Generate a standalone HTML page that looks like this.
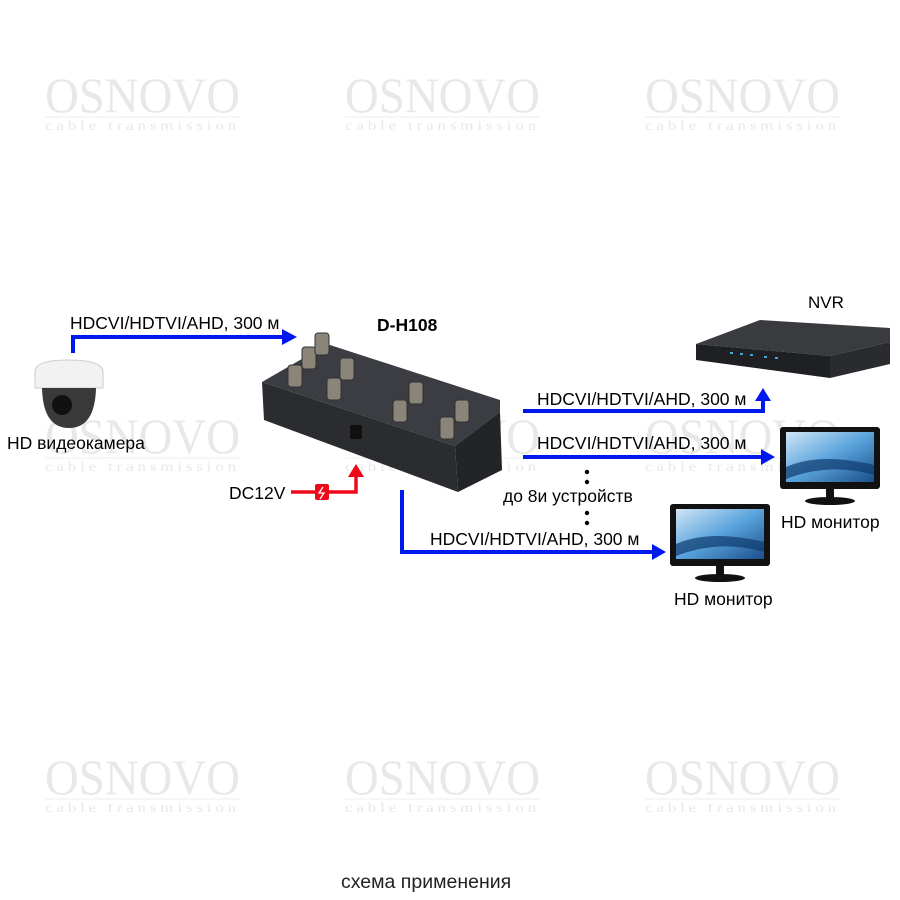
<!DOCTYPE html>
<html><head><meta charset="utf-8"><style>
html,body{margin:0;padding:0;background:#fff}
svg{display:block}
text{font-family:"Liberation Sans",sans-serif}
.wm{font-family:"Liberation Serif",serif;fill:#e8e8e8;font-size:50px}
.wm2{font-family:"Liberation Serif",serif;fill:#e8e8e8;font-size:14px;letter-spacing:3.2px}
.l{font-size:17.5px;fill:#000}
</style></head><body>
<svg width="900" height="900" viewBox="0 0 900 900" xmlns="http://www.w3.org/2000/svg">
<defs>
<linearGradient id="scr" x1="0" y1="0" x2="1" y2="1">
<stop offset="0" stop-color="#cfe6f7"/><stop offset="0.5" stop-color="#5aa3dc"/><stop offset="1" stop-color="#1a4f8c"/>
</linearGradient>
<g id="wm">
<text class="wm" x="0" y="0" textLength="195" lengthAdjust="spacingAndGlyphs">OSNOVO</text>
<line x1="0" y1="5" x2="195" y2="5" stroke="#eeeeee" stroke-width="1"/>
<text class="wm2" x="0" y="18" textLength="195" lengthAdjust="spacingAndGlyphs">cable transmission</text>
</g>
<g id="mon">
<rect x="0" y="0" width="100" height="62" rx="3" fill="#111"/>
<rect x="6" y="5" width="88" height="50" fill="url(#scr)"/>
<path d="M6 40 Q40 25 94 38 L94 48 Q50 35 6 52Z" fill="#0e3a6e" opacity="0.7"/>
<rect x="46" y="62" width="8" height="9" fill="#111"/>
<ellipse cx="50" cy="74" rx="25" ry="4" fill="#111"/>
</g>
</defs>
<use href="#wm" x="45" y="112"/><use href="#wm" x="345" y="112"/><use href="#wm" x="645" y="112"/>
<use href="#wm" x="45" y="453"/><use href="#wm" x="345" y="453"/><use href="#wm" x="645" y="453"/>
<use href="#wm" x="45" y="794"/><use href="#wm" x="345" y="794"/><use href="#wm" x="645" y="794"/>

<!-- camera -->
<path d="M35 372 Q35 360 68 360 Q103 360 103 372 L103 388 L35 388Z" fill="#f2f2f2" stroke="#ccc"/>
<path d="M42 388 L96 388 Q95 428 69 428 Q43 428 42 388Z" fill="#3a3a3a"/>
<circle cx="62" cy="405" r="10" fill="#111"/>
<text class="l" x="7" y="449">HD видеокамера</text>

<!-- camera arrow -->
<polyline points="73,353 73,337 284,337" fill="none" stroke="#0018f0" stroke-width="4"/>
<polygon points="282,329 297,337 282,345" fill="#0018f0"/>
<text class="l" x="70" y="329">HDCVI/HDTVI/AHD, 300 м</text>

<!-- device -->
<text x="377" y="331" font-size="17.5" font-weight="bold">D-H108</text>
<polygon points="262,382 300,360 330,345 500,400 500,412 455,446" fill="#3c3d42"/>
<polygon points="262,382 455,446 458,492 264,420" fill="#2b2c30"/>
<polygon points="455,446 500,412 502,470 458,492" fill="#232427"/>
<g fill="#8a8578" stroke="#333" stroke-width="1">
<rect x="288" y="365" width="14" height="22" rx="3"/><rect x="302" y="347" width="14" height="22" rx="3"/>
<rect x="315" y="333" width="14" height="22" rx="3"/><rect x="340" y="358" width="14" height="22" rx="3"/>
<rect x="327" y="378" width="14" height="22" rx="3"/><rect x="409" y="382" width="14" height="22" rx="3"/>
<rect x="393" y="400" width="14" height="22" rx="3"/><rect x="455" y="400" width="14" height="22" rx="3"/>
<rect x="440" y="417" width="14" height="22" rx="3"/>
</g>
<rect x="350" y="425" width="12" height="14" fill="#111"/>

<!-- DC12V -->
<text class="l" x="229" y="499">DC12V</text>
<polyline points="291,492 356,492 356,475" fill="none" stroke="#f00818" stroke-width="3.5"/>
<polygon points="348,477 356,464 364,477" fill="#f00818"/>
<rect x="315" y="484" width="14" height="16" rx="2" fill="#f00818"/>
<path d="M323 487 L319 493 L324 493 L320 499" stroke="#fff" stroke-width="1.3" fill="none"/>

<!-- lower arrow -->
<polyline points="402,490 402,552 655,552" fill="none" stroke="#0018f0" stroke-width="4"/>
<polygon points="652,544 666,552 652,560" fill="#0018f0"/>
<text class="l" x="430" y="545">HDCVI/HDTVI/AHD, 300 м</text>

<!-- right arrows -->
<polyline points="523,411 763,411 763,398" fill="none" stroke="#0018f0" stroke-width="4"/>
<polygon points="755,401 763,388 771,401" fill="#0018f0"/>
<text class="l" x="537" y="405">HDCVI/HDTVI/AHD, 300 м</text>
<line x1="523" y1="457" x2="763" y2="457" stroke="#0018f0" stroke-width="4"/>
<polygon points="761,449 775,457 761,465" fill="#0018f0"/>
<text class="l" x="537" y="449">HDCVI/HDTVI/AHD, 300 м</text>
<circle cx="587" cy="472" r="2.2"/><circle cx="587" cy="482" r="2.2"/>
<circle cx="587" cy="513" r="2.2"/><circle cx="587" cy="523" r="2.2"/>
<text class="l" x="503" y="502">до 8и устройств</text>

<!-- NVR -->
<text x="808" y="308" font-size="17">NVR</text>
<polygon points="696,344 760,320 890,328 890,342 830,356" fill="#3a3b3f"/>
<polygon points="696,344 830,356 830,378 696,360" fill="#1f2023"/>
<polygon points="830,356 890,342 890,364 830,378" fill="#2a2b2e"/>
<g fill="#3fa9d8"><rect x="730" y="352" width="3" height="2"/><rect x="740" y="353" width="3" height="2"/><rect x="750" y="354" width="3" height="2"/><rect x="764" y="356" width="3" height="2"/><rect x="775" y="357" width="3" height="2"/></g>

<!-- monitors -->
<use href="#mon" x="780" y="427"/>
<text class="l" x="781" y="528">HD монитор</text>
<use href="#mon" x="670" y="504"/>
<text class="l" x="674" y="605">HD монитор</text>

<text x="341" y="888" font-size="19.5" fill="#222">схема применения</text>
</svg>
</body></html>
